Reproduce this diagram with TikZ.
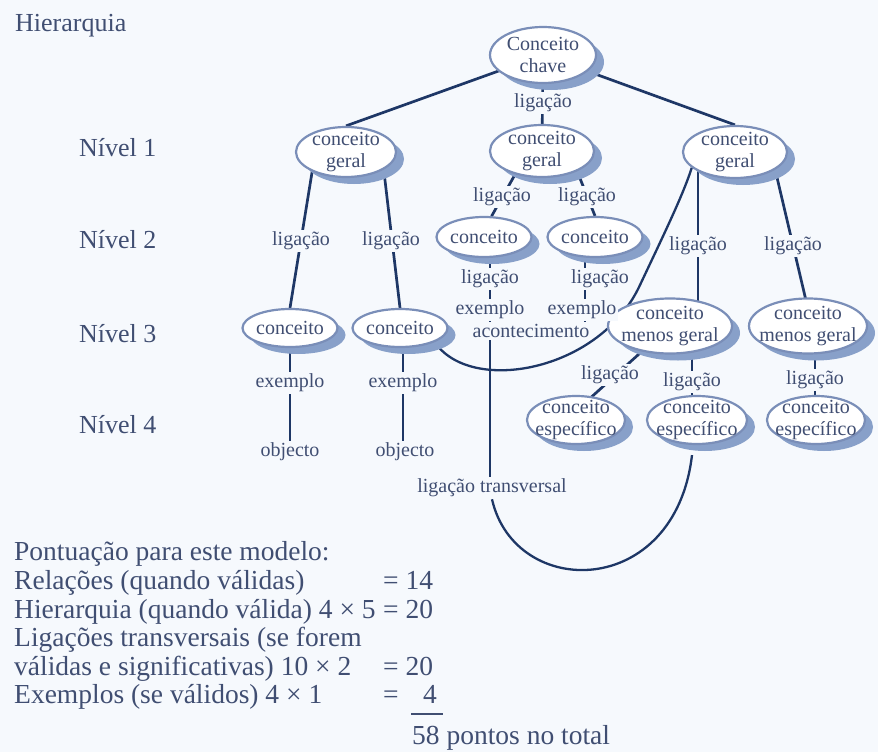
\documentclass[tikz,border=0pt]{standalone}
\usepackage{fontspec}
\setmainfont{Liberation Serif}
\usetikzlibrary{shapes.geometric,shadows,calc}
\definecolor{bgcol}{RGB}{246,249,253}
\definecolor{txtcol}{RGB}{64,78,114}
\definecolor{linkcol}{RGB}{30,55,102}
\definecolor{rimcol}{RGB}{122,142,184}
\definecolor{shcol}{RGB}{136,160,201}
\pgfdeclarelayer{bgl}
\pgfdeclarelayer{edges}
\pgfsetlayers{bgl,edges,main}
\tikzset{
  cpt/.style={ellipse, draw=rimcol, line width=2.2pt, fill=white, inner sep=0pt,
    drop shadow={shadow xshift=8pt, shadow yshift=-7pt, fill=shcol, opacity=1}},
  ctext/.style={font=\fontsize{20}{22}\selectfont, text=txtcol, align=center, inner sep=0pt},
  lnk/.style={font=\fontsize{20}{22}\selectfont, text=txtcol, fill=bgcol, inner sep=2pt},
  lvl/.style={font=\fontsize{26}{30}\selectfont, text=txtcol, anchor=base west, inner sep=0pt},
  score/.style={font=\fontsize{27.5}{30}\selectfont, text=txtcol, anchor=base west, inner sep=0pt},
  conn/.style={draw=linkcol, line width=2.7pt},
  xlink/.style={draw=linkcol, line width=2.3pt},
}
\begin{document}
\begin{tikzpicture}[x=1pt,y=-1pt]
\begin{pgfonlayer}{bgl}
  \fill[bgcol] (0,0) rectangle (878,752);
\end{pgfonlayer}
\useasboundingbox (0,0) rectangle (878,752);

% level captions
\node[lvl] (hier) at (15,32) {Hierarquia};
\node[lvl] (niv1) at (79,156) {Nível 1};
\node[lvl] (niv2) at (79,248) {Nível 2};
\node[lvl] (niv3) at (79,342) {Nível 3};
\node[lvl] (niv4) at (79,433) {Nível 4};

% concepts
\node[cpt, minimum width=106pt, minimum height=56pt, label={[ctext]center:Conceito\\chave}] (chave) at (543,55) {};
\node[cpt, minimum width=100pt, minimum height=50pt, label={[ctext]center:conceito\\geral}] (g1) at (346,152) {};
\node[cpt, minimum width=104pt, minimum height=52pt, label={[ctext]center:conceito\\geral}] (g2) at (542,151) {};
\node[cpt, minimum width=104pt, minimum height=52pt, label={[ctext]center:conceito\\geral}] (g3) at (735,152) {};
\node[cpt, minimum width=95pt, minimum height=40pt, label={[ctext]center:conceito}] (c21) at (484,237) {};
\node[cpt, minimum width=95pt, minimum height=40pt, label={[ctext]center:conceito}] (c22) at (595,237) {};
\node[cpt, minimum width=95pt, minimum height=38pt, label={[ctext]center:conceito}] (c31) at (290,328) {};
\node[cpt, minimum width=95pt, minimum height=38pt, label={[ctext]center:conceito}] (c32) at (400,328) {};
\node[cpt, minimum width=124pt, minimum height=55pt, label={[ctext]center:conceito\\menos geral}] (m1) at (670,326) {};
\node[cpt, minimum width=118pt, minimum height=55pt, label={[ctext]center:conceito\\menos geral}] (m2) at (808,326) {};
\node[cpt, minimum width=98pt, minimum height=48pt, label={[ctext]center:conceito\\específico}] (e1) at (576,420) {};
\node[cpt, minimum width=100pt, minimum height=48pt, label={[ctext]center:conceito\\específico}] (e2) at (697,420) {};
\node[cpt, minimum width=98pt, minimum height=48pt, label={[ctext]center:conceito\\específico}] (e3) at (816,420) {};

% linking words
\node[lnk] (l0) at (543,103) {ligação};
\node[lnk] (l11) at (301,241) {ligação};
\node[lnk] (l12) at (391,241) {ligação};
\node[lnk] (l13) at (502,197) {ligação};
\node[lnk] (l14) at (587,197) {ligação};
\node[lnk] (l15) at (698,246) {ligação};
\node[lnk] (l16) at (793,246) {ligação};
\node[lnk] (l21) at (490,279) {ligação};
\node[lnk] (ex21) at (490,310) {exemplo};
\node[lnk] (l22) at (600,279) {ligação};
\node[lnk] (ex22) at (582,310) {exemplo};
\node[lnk] (ac) at (531,331) {acontecimento};
\node[lnk] (ex31) at (290,383) {exemplo};
\node[lnk] (ob1) at (290,452) {objecto};
\node[lnk] (ex32) at (403,383) {exemplo};
\node[lnk] (ob2) at (405,452) {objecto};
\node[lnk] (l31) at (610,375) {ligação};
\node[lnk] (l32) at (692,382) {ligação};
\node[lnk] (l33) at (815,380) {ligação};
\node[lnk] (lt) at (492,488) {ligação transversal};
\coordinate (col2) at (585,0);

% connectors, kept beneath the concepts
\begin{pgfonlayer}{edges}
  \draw[conn] (chave.center) -- (g1.north);
  \draw[conn] (chave.center) -- (g3.north);
  \draw[conn] (chave.center) -- (g2.center);
  \draw[conn] (g1.210) -- (c31.north);
  \draw[conn] (g1.-25) -- (c32.north);
  \draw[conn] (g2.-139) -- (c21.70);
  \draw[conn] (g2.-30) -- (c22.north);
  \draw[conn] (g3.center -| l15.center) -- (m1.center -| l15.center);
  \draw[conn] ($(g3.center)+(36,0)$) -- ($(m2.center)+(4,0)$);
  \draw[conn] (c21.center -| l21.center) -- (lt.center -| l21.center);
  \draw[conn] (c22.center -| col2) -- (ac.center -| col2);
  \draw[conn] (c31.center) -- (ob1.center -| c31.center);
  \draw[conn] (c32.center -| ex32.center) -- (ob2.center -| ex32.center);
  \draw[conn] (m1.center) -- ($(e1.center)+(-10,0)$);
  \draw[conn] (m1.center -| l32.center) -- (e2.center -| l32.center);
  \draw[conn] (m2.center -| l33.center) -- (e3.center -| l33.center);
  % cross links
  \draw[xlink] (c32.-22) .. controls (470,395) and (600,372) .. (640,285)
               .. controls (665,232) and (683,195) .. (g3.200);
  \draw[xlink] (lt.south) .. controls (515,600) and (675,600) .. ($(e2.south)+(-5,10)$);
\end{pgfonlayer}

% scoring
\node[score] (s0) at (14,560) {Pontuação para este modelo:};
\node[score] (s1) at (14,589) {Relações (quando válidas)};
\node[score] (s2) at (14,618) {Hierarquia (quando válida) 4 × 5};
\node[score] (s3) at (14,646) {Ligações transversais (se forem};
\node[score] (s4) at (14,675) {válidas e significativas) 10 × 2};
\node[score] (s5) at (14,703) {Exemplos (se válidos) 4 × 1};
\node[score] (v1) at (383,589) {= 14};
\node[score] (v2) at (383,618) {= 20};
\node[score] (v4) at (383,675) {= 20};
\node[score] (v5) at (383,703) {=};
\node[score, anchor=base east] (v5n) at (437,703) {4};
\draw[txtcol, line width=1.6pt] (411,714) -- (443,714);
\node[score] (tot) at (412,744) {58 pontos no total};
\end{tikzpicture}
\end{document}
